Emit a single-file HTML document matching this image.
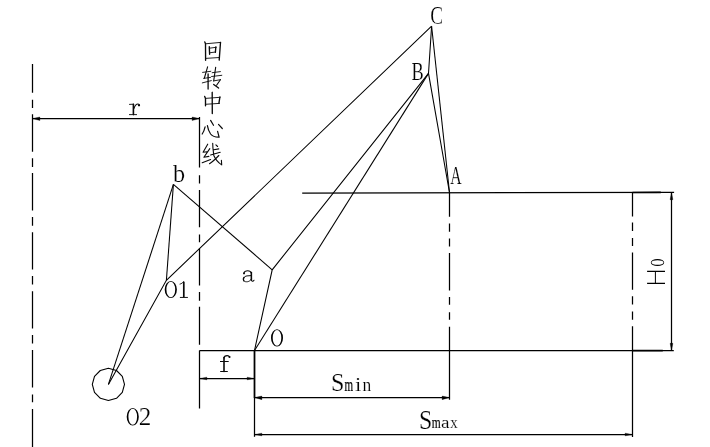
<!DOCTYPE html>
<html>
<head>
<meta charset="utf-8">
<title>Diagram</title>
<style>
html,body{margin:0;padding:0;background:#fff;}
body{width:710px;height:447px;overflow:hidden;font-family:"Liberation Serif",serif;}
svg{display:block;position:absolute;left:0;top:0;will-change:transform;}
text{font-family:"Liberation Serif",serif;fill:#000;stroke:#fff;stroke-width:0.18px;}
.l{stroke:#000;stroke-width:1.25;fill:none;stroke-linecap:butt;}
.g{stroke:#0a0a0a;stroke-width:1.05;fill:none;stroke-linecap:round;stroke-linejoin:round;}
.a{fill:#000;}
</style>
</head>
<body>
<svg width="710" height="447" viewBox="0 0 710 447">
<rect x="0" y="0" width="710" height="447" fill="#ffffff"/>

<!-- left centre line x=32.5 -->
<g class="l">
<path d="M32.5 64V92.8M32.5 99.7V107.9M32.5 114.2V151.8M32.5 158.3V166.9M32.5 173V210.4M32.5 217V225.8M32.5 232.2V269.4M32.5 276V284.4M32.5 291.2V328.6M32.5 335V343.4M32.5 350V387.4M32.5 394.6V402.2M32.5 409V447"/>
<!-- rotation centre line x=199.5 -->
<path d="M199.5 117V167.4M199.5 175.2V183.4M199.5 189.9V227.3M199.5 234.6V242.3M199.5 248.5V285.6M199.5 291.9V300.7M199.5 306.8V344.8M199.5 350.5V408.6"/>
<!-- x=449.5 -->
<path d="M449.5 192.5V216.7M449.5 223.4V231.8M449.5 238.6V246.6M449.5 253V290.5M449.5 297V304.8M449.5 312.2V319.8M449.5 326.8V399.8"/>
<!-- x=632.5 -->
<path d="M632.5 192.5V216.6M632.5 222.6V231M632.5 237.9V246M632.5 252.4V289.7M632.5 296.3V304.6M632.5 311.6V319.7M632.5 326.3V436.9"/>
<!-- horizontals -->
<path d="M302.2 193.1L674.1 192.4"/>
<path d="M199.5 350.5H673.8"/>
<path d="M632.5 350.6H662.8" stroke-width="1.7"/>
<path d="M632.5 192.5L660.8 192.45" stroke-width="1.7"/>
<path d="M254.5 350.5V436.8"/>
<path d="M254.5 350.5V398" stroke-width="1.6"/>
<!-- dimension lines -->
<path d="M32.5 118.5H199.5"/>
<path d="M199.5 378.5H254.5"/>
<path d="M254.5 397.5H449.5"/>
<path d="M254.5 434.5H632.5"/>
<path d="M671.5 192.5V350.5"/>
<!-- mechanism -->
<path stroke-width="1.06" d="M173.4 184.4L108.4 384.4"/>
<path stroke-width="1.06" d="M173.4 184.4L166.4 280.3"/>
<path stroke-width="1.06" d="M108.4 384.4L166.4 280.3L431.6 26.2"/>
<path stroke-width="1.06" d="M173.4 184.4L272.2 269.8"/>
<path stroke-width="1.06" d="M254.5 350.5L272.2 269.8L428.5 73.4"/>
<path stroke-width="1.06" d="M254.5 350.5L428.5 73.4"/>
<path stroke-width="1.06" d="M431.6 26.2L428.5 73.4L449.5 192.5"/>
<path stroke-width="1.06" d="M431.6 26.2L449.5 192.5"/>
<!-- circle (polygon) -->
<path stroke-width="1.1" stroke-linejoin="round" d="M108.4 368.3L116.5 370.5L122.3 376.3L124.5 384.4L122.3 392.4L116.5 398.3L108.4 400.5L100.4 398.3L94.5 392.4L92.3 384.4L94.5 376.3L100.3 370.5Z"/>
</g>

<!-- arrowheads -->
<g class="a" stroke="#000" stroke-width="0.3" stroke-linejoin="round">
<path d="M32.5 118.5L39.9 117.00V120.60Z"/>
<path d="M199.5 118.5L192.1 117.00V120.60Z"/>
<path d="M199.5 378.5L206.9 377.15V379.85Z"/>
<path d="M254.5 378.5L247.1 377.15V379.85Z"/>
<path d="M254.5 397.5L261.9 396.05V399.65Z"/>
<path d="M449.5 397.5L442.1 396.05V399.65Z"/>
<path d="M254.5 434.5L261.9 433.15V435.85Z"/>
<path d="M632.5 434.5L625.1 433.15V435.85Z"/>
<path d="M671.5 192.5L670.10 199.7H672.90Z"/>
<path d="M671.5 350.5L670.10 343.3H672.90Z"/>
</g>

<!-- labels -->
<g font-size="20.48">
<text transform="matrix(1.1839 0 0 1.1797 173.00 181.66)">b</text>
<text transform="matrix(1.2302 0 0 1.2389 138.79 424.90)">2</text>
<text transform="matrix(0.7687 0 0 1.2352 450.15 183.80)">A</text>
<text transform="matrix(0.8948 0 0 1.1804 411.47 80.13)">B</text>
<text transform="matrix(0.9324 0 0 1.2209 430.32 23.76)">C</text>
<text transform="matrix(1.1771 0 0 1.2791 330.99 391.44)">S</text>
<text transform="matrix(0.5402 0 0 0.8808 344.47 391.30)" style="stroke:#000;stroke-width:0.25px">m</text>
<text transform="matrix(1.1088 0 0 0.8923 354.92 391.30)">i</text>
<text transform="matrix(0.8562 0 0 0.8808 362.60 391.30)">n</text>
<text transform="matrix(1.1657 0 0 1.2936 419.00 428.94)">S</text>
<text transform="matrix(0.5599 0 0 0.8394 431.66 428.00)" style="stroke:#000;stroke-width:0.25px">m</text>
<text transform="matrix(0.9394 0 0 0.8563 441.12 428.13)">a</text>
<text transform="matrix(0.7238 0 0 0.8298 450.17 428.00)">x</text>
</g>
<!-- H0 label drawn as strokes -->
<g class="l"><title>H0</title>
<path d="M647.1 271.3H665M647.1 283.3H665" stroke-width="1.3"/>
<path d="M655.4 271.3V283.3" stroke-width="1"/>
<path fill="#000" stroke="none" fill-rule="evenodd" d="M650.80 262.50A6.70 3.60 0 1 0 664.20 262.50A6.70 3.60 0 1 0 650.80 262.50ZM651.50 262.50A6.00 2.30 0 1 0 663.50 262.50A6.00 2.30 0 1 0 651.50 262.50Z"/>
</g>

<!-- Chinese label 回转中心线 drawn as strokes -->
<!-- hand drawn thin glyphs: r, f, a, 0 -->
<g class="a">
<path fill-rule="evenodd" d="M164.70 289.50A6.10 8.60 0 1 0 176.90 289.50A6.10 8.60 0 1 0 164.70 289.50ZM166.40 289.50A4.40 7.85 0 1 0 175.20 289.50A4.40 7.85 0 1 0 166.40 289.50Z"/>
<path fill-rule="evenodd" d="M126.70 416.70A6.05 8.80 0 1 0 138.80 416.70A6.05 8.80 0 1 0 126.70 416.70ZM128.40 416.70A4.35 8.05 0 1 0 137.10 416.70A4.35 8.05 0 1 0 128.40 416.70Z"/>
<path fill-rule="evenodd" d="M271.00 337.90A6.00 8.60 0 1 0 283.00 337.90A6.00 8.60 0 1 0 271.00 337.90ZM272.70 337.90A4.30 7.85 0 1 0 281.30 337.90A4.30 7.85 0 1 0 272.70 337.90Z"/>
<circle cx="139.0" cy="105.3" r="1.1"/>
<circle cx="229.5" cy="357" r="1.05"/>
<circle cx="244.0" cy="273.4" r="0.95"/>
</g>
<g class="g">
<!-- r -->
<path d="M133.4 104.3V114.6" stroke-width="1.6"/>
<path d="M129.4 114.6H136.6M129.5 104.4L133.4 104.2" stroke-width="0.9"/>
<path d="M134 108.4C134.8 105.8 136.5 104 138 104C138.9 104 139.4 104.6 139.3 105.3" stroke-width="1.15"/>
<!-- 1 -->
<path d="M183.8 281.7V297.3" stroke-width="1.7" stroke-linecap="butt"/>
<path d="M180 284.1C181.5 283.7 182.8 282.9 183.5 281.6" stroke-width="0.85"/>
<path d="M179.9 297.45H187.9" stroke-width="0.95" stroke-linecap="butt"/>
<!-- f -->
<path d="M224 371.5V357.6" stroke-width="1.6" stroke-linecap="round"/>
<path d="M224.05 358C224.1 356.4 225.5 355.6 227.2 355.6C228.4 355.6 229.2 356.1 229.5 356.9" stroke-width="1.2"/>
<path d="M220 361.5H228.7M220.2 371.5H227.8" stroke-width="1" stroke-linecap="butt"/>
<!-- a -->
<path d="M243.9 273C244.3 271.6 246 270.8 247.7 270.8C249.6 270.8 250.9 271.6 251.3 273" stroke-width="1.1"/>
<path d="M251.35 272.6V279.9" stroke-width="1.55"/>
<path d="M251.35 279.6C251.4 281.5 253 281.8 254 280.3" stroke-width="1.1"/>
<path d="M251.3 275.6L247 275.9C245.5 276.1 244.4 276.8 243.8 277.8" stroke-width="1"/>
<path d="M243.9 277.6C243.2 278.6 243.1 280 243.8 280.8" stroke-width="1.5"/>
<path d="M243.8 280.8C244.6 281.8 246.2 281.9 247.6 281.7C249.2 281.4 250.6 280.4 251.3 279.2" stroke-width="0.95"/>
</g>
<g class="g" id="cjk" stroke="#000">
<title>回转中心线</title>
<!-- 回 -->
<path stroke-width="1.35" d="M204.8 41.9L205.5 43.8L205.6 60.3M220.5 42.4L219.2 60.1M209.3 46.7L209.6 54.3M215.8 47L215.4 52.3"/>
<path stroke-width="0.9" d="M205.5 43.8L220.7 42.4M205.6 58.4L219.4 57.5M209.3 48.2L216.3 47.3M209.6 52.8L215.6 52"/>
<!-- 转 -->
<path stroke-width="1.3" d="M208.1 73.9V89M213.7 84.4L218.6 88.1"/>
<path stroke-width="1.1" d="M207.6 66.9L204.4 78M215.7 67.2L213.7 80.9M220.4 79.7L216.6 85.2"/>
<path stroke-width="0.9" d="M202.6 72.4L210.8 71.3M204.4 78L203.5 78.4L210.5 77.4M202.3 82.9L211.3 80.6M212.2 72.7L220.4 71.6M211.6 76.5L221.8 75.3M213.7 80.9L220.4 79.7"/>
<!-- 中 -->
<path stroke-width="1.35" d="M212.2 92.3L212.3 113.6M204.7 96.4L205.5 98.4L205.5 105.7M219.9 97L218.9 103.4"/>
<path stroke-width="0.9" d="M205.5 98.4L220.1 97.3M205.5 104.3L219.4 103.4"/>
<!-- 心 -->
<path stroke-width="1.2" d="M205.1 126.8C204.5 129.5 203.5 132 202.2 134M207.4 125.6C208 129.5 209.2 132 210.6 134C212.3 136.2 215 137.3 219.1 137.2L217.6 131.4M210.6 120.4L213.5 125.3M218.5 124.4L222.3 128.5"/>
<!-- 线 -->
<path stroke-width="1.1" d="M207.7 144.2L203.1 152.3L207.1 151.8M209.8 148.6L203.9 157.3L208.9 156.4M202.2 162.8L210.6 159.6"/>
<path stroke-width="1.1" d="M213.8 149.7L218.8 148.9M210.6 155L220.2 152.3M212.7 143.3C212.7 148 213.3 152 213.8 155.5C215.5 159.5 218 162.5 221.7 164.9L221.4 160.2M218.8 155.5C216 158.5 213 161.5 209.5 163.7M215.9 144.8L217.6 146.5"/>
</g>
</svg>
</body>
</html>
